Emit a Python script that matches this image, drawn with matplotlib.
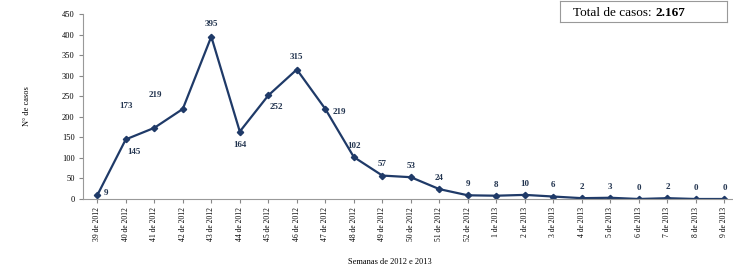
import matplotlib
matplotlib.use("Agg")
import matplotlib.pyplot as plt

plt.rcParams['font.family'] = ['Liberation Serif', 'DejaVu Serif']

weeks = [f"{w} de 2012" for w in range(39, 53)] + [f"{w} de 2013" for w in range(1, 10)]
cases = [9, 145, 173, 219, 395, 164, 252, 315, 219, 102, 57, 53, 24, 9, 8, 10, 6, 2, 3, 0, 2, 0, 0]
label_offsets = [(6, 2), (6, -9), (-20, 16), (-20, 10), (0, 9), (0, -10), (6, -8), (0, 9), (10, -2), (0, 8),
                 (0, 8), (0, 8), (0, 8), (0, 8), (0, 8), (0, 8), (0, 8), (0, 8), (0, 8), (0, 8), (0, 8), (0, 8), (0, 8)]
yticks = list(range(0, 451, 50))

navy = '#1f3a68'
fig = plt.figure(figsize=(7.33, 2.69), dpi=100)
ax = fig.add_axes([83/733, 70/269, (733-83)/733, (199-14)/269])
x = list(range(len(cases)))
ax.plot(x, cases, color=navy, lw=1.6, marker='D', ms=3.2, mfc=navy, mec=navy)
for xi, v, (dx, dy) in zip(x, cases, label_offsets):
    ax.annotate(str(v), (xi, v), xytext=(dx, dy), textcoords='offset points',
                ha='center', va='center', fontsize=6.5, color='#22344f', fontweight='bold')

ax.set_xlim(-0.5, 22.3)
ax.set_ylim(0, 450)
ax.set_yticks(yticks)
ax.set_xticks(x)
ax.set_xticklabels(weeks, rotation=90, fontsize=5.5, va='top')
ax.tick_params(axis='y', labelsize=6, length=3, color='#888888', pad=3)
ax.tick_params(axis='x', length=3, color='#888888', pad=3)
for s in ['top', 'right']:
    ax.spines[s].set_visible(False)
for s in ['left', 'bottom']:
    ax.spines[s].set_color('#999999')
    ax.spines[s].set_linewidth(0.8)
ax.set_ylabel('N° de casos', fontsize=6, labelpad=22)
fig.text(390/733, 1 - 262/269, 'Semanas de 2012 e 2013', ha='center', va='center', fontsize=6)

# Total box
box = fig.add_axes([560/733, 1 - 22/269, 167/733, 21/269])
box.set_xticks([]); box.set_yticks([])
for s in box.spines.values():
    s.set_color('#999999'); s.set_linewidth(0.8)
t1 = box.text(0.08, 0.45, 'Total de casos:', ha='left', va='center', fontsize=9.5, transform=box.transAxes)
box.annotate('2.167', xy=(1, 0.5), xycoords=t1, xytext=(2.5, 0), textcoords='offset points',
             ha='left', va='center', fontsize=9.5, fontweight='bold')

fig.savefig('out.png', dpi=100)
